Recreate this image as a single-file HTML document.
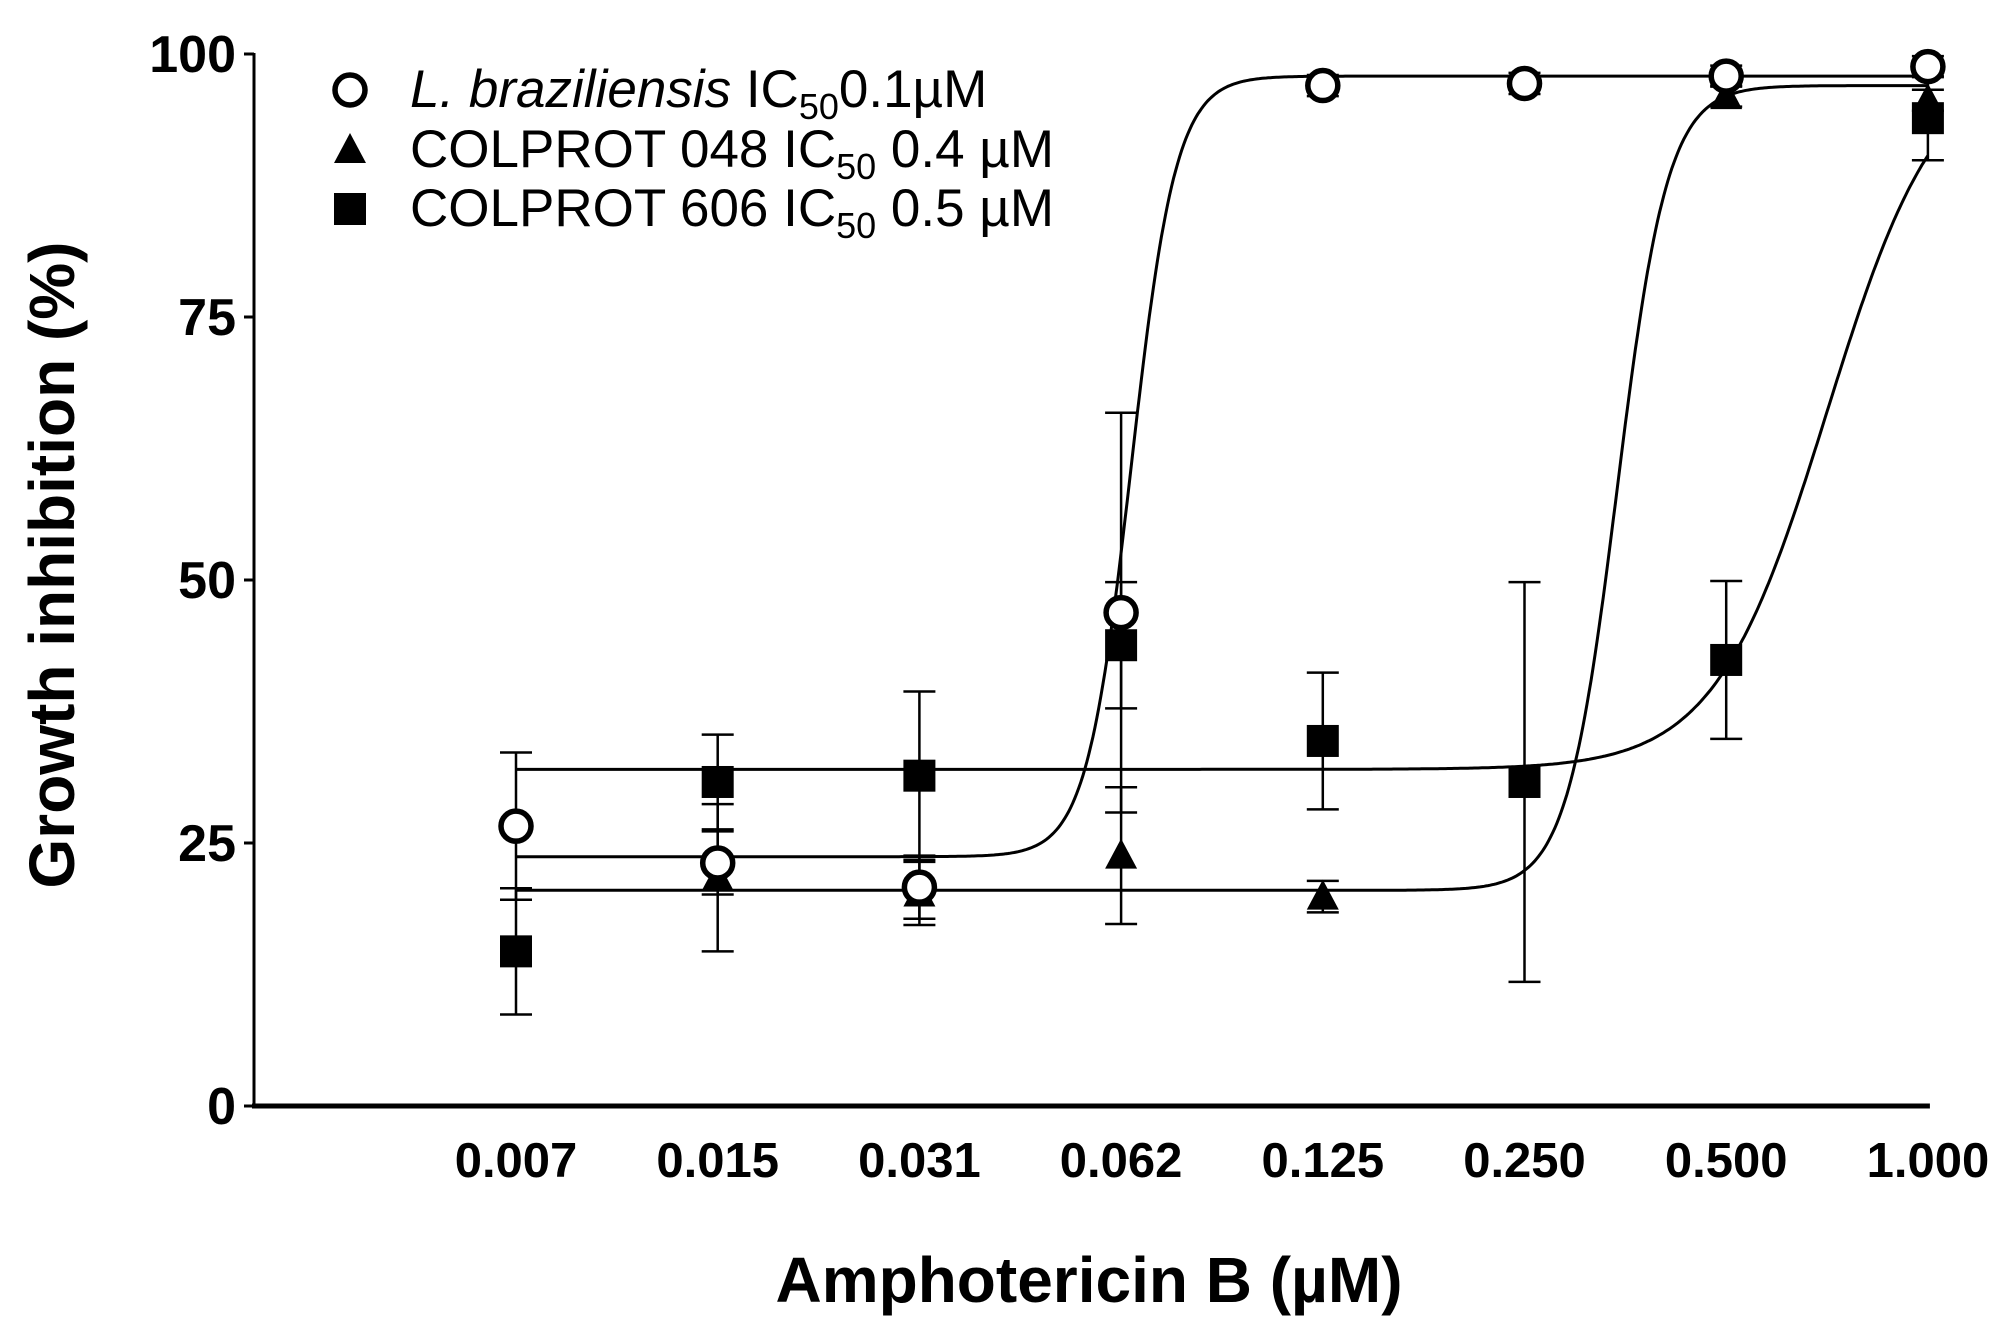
<!DOCTYPE html>
<html><head><meta charset="utf-8"><style>body{margin:0;background:#fff}svg{display:block;font-family:"Liberation Sans",Arial,sans-serif}</style></head>
<body>
<svg id="chart" width="2007" height="1333" viewBox="0 0 2007 1333"></svg>
<script>
const categories=["0.007","0.015","0.031","0.062","0.125","0.250","0.500","1.000"];
const yTicks=[0,25,50,75,100];
const circleVals=[26.6,23.1,20.8,46.9,97,97.2,97.9,98.8];
const circleErr=[7,3,3,19,1,1,1,1];
const triVals=[null,21.7,20.2,23.8,19.9,null,96,95.6];
const triErr=[1,7,3,6.5,1.5,1,1,1];
const sqVals=[14.7,30.8,31.4,43.8,34.7,30.8,42.4,93.9];
const sqErr=[6,4.5,8,6,6.5,19,7.5,4];
const circleFit=[23.7,97.9,3.05,9];
const triFit=[20.5,97,5.46,8];
const sqFit=[32,100,6.5,3.6];
const svg=document.getElementById('chart');
const NS='http://www.w3.org/2000/svg';
const X0=516,XS=201.7,AX=254,Y0=1106,Y100=54;
const xs=i=>X0+i*XS, ys=v=>Y0-(Y0-Y100)*v/100;
function mk(t,a,p){const e=document.createElementNS(NS,t);for(const k in a)e.setAttribute(k,a[k]);(p||svg).appendChild(e);return e;}
let e=mk('line',{x1:AX,y1:Y100-1,x2:AX,y2:Y0,stroke:'#000','stroke-width':3});


e=mk('line',{x1:AX-2,y1:Y0,x2:xs(7)+2,y2:Y0,stroke:'#000','stroke-width':5});


yTicks.forEach(v=>{
 mk('line',{x1:AX-10,y1:ys(v),x2:AX,y2:ys(v),stroke:'#000','stroke-width':3});
 const t=mk('text',{x:AX-18,y:ys(v)+18,'text-anchor':'end','font-size':52,'font-weight':'bold'});t.textContent=v;
 
 
});
categories.forEach((c,i)=>{
 const t=mk('text',{x:xs(i),y:1177,'text-anchor':'middle','font-size':49,'font-weight':'bold'});t.textContent=c;
 
 
});
e=mk('text',{x:1089,y:1302,'text-anchor':'middle','font-size':64,'font-weight':'bold'});e.textContent='Amphotericin B (µM)';


e=mk('text',{x:0,y:0,'text-anchor':'middle','font-size':64,'font-weight':'bold',transform:'translate(74,565) rotate(-90)'});e.textContent='Growth inhibition (%)';


function curve(f,name){let d='';for(let k=0;k<=700;k++){const t=k/100;const v=f[0]+(f[1]-f[0])/(1+Math.exp(-(t-f[2])*f[3]));d+=(k?'L':'M')+xs(t).toFixed(1)+','+ys(Math.min(v,100.5)).toFixed(1);}
 const p=mk('path',{d:d,fill:'none',stroke:'#000','stroke-width':3});
 
 }
curve(circleFit,'fit-curve-l-braziliensis');curve(triFit,'fit-curve-colprot-048');curve(sqFit,'fit-curve-colprot-606');
function errs(vals,er,name){vals.forEach((v,i)=>{if(v===null)return;const g=mk('g',{stroke:'#000','stroke-width':2.5});
 
 
 const x=xs(i);mk('line',{x1:x,y1:ys(v-er[i]),x2:x,y2:ys(v+er[i])},g);
 [v-er[i],v+er[i]].forEach(u=>mk('line',{x1:x-16,y1:ys(u),x2:x+16,y2:ys(u)},g));});}
errs(sqVals,sqErr,'error-bar-colprot-606');errs(triVals,triErr,'error-bar-colprot-048');errs(circleVals,circleErr,'error-bar-l-braziliensis');
function sq(x,y,n){const r=mk('rect',{x:x-16,y:y-16,width:32,height:32,fill:'#000'});}
function tri(x,y,n){const p=mk('polygon',{points:`${x},${y-17} ${x-16},${y+13} ${x+16},${y+13}`,fill:'#000'});}
function circ(x,y,n){const c=mk('circle',{cx:x,cy:y,r:15,fill:'#fff',stroke:'#000','stroke-width':5.5});}
sqVals.forEach((v,i)=>sq(xs(i),ys(v),'point-colprot-606'));
triVals.forEach((v,i)=>{if(v!==null)tri(xs(i),ys(v),'point-colprot-048');});
circleVals.forEach((v,i)=>circ(xs(i),ys(v),'point-l-braziliensis'));
circ(350,90,'legend-marker-l-braziliensis');tri(350,150,'legend-marker-colprot-048');sq(350,209,'legend-marker-colprot-606');
const leg=[[107,'<tspan font-style="italic">L. braziliensis</tspan> IC<tspan font-size="36" dy="12">50</tspan><tspan dy="-12">0.1µM</tspan>','legend-entry-l-braziliensis'],
[167,'COLPROT 048 IC<tspan font-size="36" dy="12">50</tspan><tspan dy="-12"> 0.4 µM</tspan>','legend-entry-colprot-048'],
[226,'COLPROT 606 IC<tspan font-size="36" dy="12">50</tspan><tspan dy="-12"> 0.5 µM</tspan>','legend-entry-colprot-606']];
leg.forEach(l=>{const t=mk('text',{x:410,y:l[0],'font-size':53});t.innerHTML=l[1];
 
 });
</script>
</body></html>
